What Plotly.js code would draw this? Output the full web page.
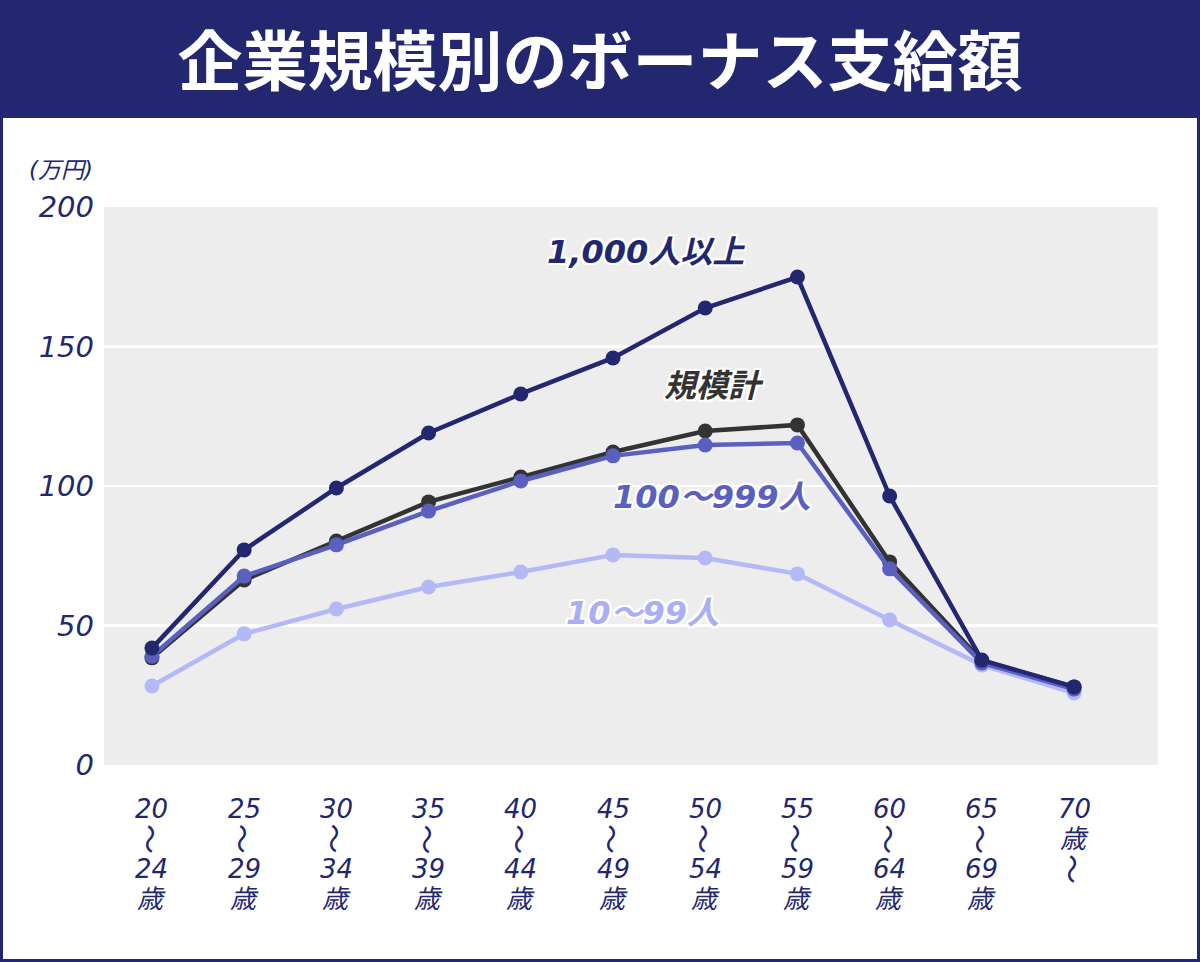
<!DOCTYPE html>
<html>
<head>
<meta charset="utf-8">
<script src="https://cdn.plot.ly/plotly-3.0.1.min.js"></script>
<style>
html,body{margin:0;padding:0;background:#fff;}
#chart{width:1200px;height:962px;}
</style>
</head>
<body>
<div id="chart"></div>
<script>
// ---- data ----
var categories = ["20〜24歳","25〜29歳","30〜34歳","35〜39歳","40〜44歳","45〜49歳","50〜54歳","55〜59歳","60〜64歳","65〜69歳","70歳〜"];
var tickLabels = [
  ["20","〜","24","歳"],["25","〜","29","歳"],["30","〜","34","歳"],["35","〜","39","歳"],
  ["40","〜","44","歳"],["45","〜","49","歳"],["50","〜","54","歳"],["55","〜","59","歳"],
  ["60","〜","64","歳"],["65","〜","69","歳"],["70","歳","〜"]
];
var seriesNames = ["10〜99人","規模計","100〜999人","1,000人以上"];
var small   = [28.3, 47.0, 55.9, 63.8, 69.2, 75.3, 74.2, 68.5, 52.0, 35.8, 25.8];
var total   = [38.4, 66.3, 80.3, 94.3, 103.2, 112.2, 119.7, 121.9, 72.8, 37.3, 28.0];
var medium  = [39.0, 67.7, 78.9, 91.0, 101.8, 110.8, 114.7, 115.4, 70.3, 36.6, 27.2];
var large   = [41.9, 77.1, 99.3, 119.0, 133.0, 145.9, 163.8, 174.9, 96.4, 37.6, 28.0];
var yTicks  = [0, 50, 100, 150, 200];

// ---- style ----
var NAVY = "#22276f";
var colors = ["#b3b8f6", "#333333", "#5a5fc0", "#22276f"];
var labelColors = ["#a9aef5", "#333333", "#5a5fc0", "#22276f"];
var values = [small, total, medium, large];
var FONT = "DejaVu Sans, Verdana, 'Noto Sans CJK JP', sans-serif";

var traces = values.map(function(v, k){
  return {
    type: "scatter", mode: "lines+markers",
    x: categories, y: v, name: seriesNames[k],
    line: {color: colors[k], width: 4.5},
    marker: {color: colors[k], size: 15},
    hoverinfo: "x+y+name"
  };
});

var annotations = [];
// category labels: one annotation per line (tight vertical stacking, wave dash turned upright)
tickLabels.forEach(function(lines, i){
  lines.forEach(function(t, j){
    var isWave = (t === "〜");
    annotations.push({
      x: categories[i], xref: "x", y: 0, yref: "paper",
      yanchor: "middle", xanchor: "center", yshift: -(44 + 30*j),
      text: t, showarrow: false, textangle: isWave ? 90 : 0,
      font: isWave ? {family: "'Noto Sans CJK JP', sans-serif", size: 30, color: NAVY}
                   : {family: FONT, size: 26, color: NAVY, style: "italic"}
    });
  });
});
// series labels
var labelPos = [[5.32, 54.5], [6.1, 135.8], [6.07, 96], [5.36, 184]];
var shadow = "2px 2px 0 #fff, -2px -2px 0 #fff, 2px -2px 0 #fff, -2px 2px 0 #fff, 0 2px 0 #fff, 0 -2px 0 #fff, 2px 0 0 #fff, -2px 0 0 #fff";
seriesNames.forEach(function(n, k){
  annotations.push({
    x: labelPos[k][0], y: labelPos[k][1], xref: "x", yref: "y",
    text: "<b>" + n + "</b>", showarrow: false,
    font: {family: FONT, size: 32, color: labelColors[k], style: "italic", shadow: shadow}
  });
});
// unit label
annotations.push({
  x: -0.009, xref: "paper", y: 1.066, yref: "paper",
  xanchor: "right", yanchor: "middle", showarrow: false,
  text: "(万円)",
  font: {family: FONT, size: 23, color: NAVY, style: "italic"}
});

// paper-coordinate helpers
var W = 1200, H = 962, L = 104, R = 42, T = 207, B = 197;
var pw = W - L - R, ph = H - T - B;
function px(x){ return (x - L) / pw; }
function py(y){ return (H - B - y) / ph; }

var layout = {
  width: W, height: H,
  margin: {l: L, r: R, t: T, b: B, pad: 0},
  paper_bgcolor: "#ffffff",
  plot_bgcolor: "#ededed",
  showlegend: false,
  font: {family: FONT, color: NAVY},
  title: {
    text: "<b>企業規模別のボーナス支給額</b>",
    x: 0.5, xanchor: "center", xref: "container",
    y: 1 - 62/H, yanchor: "middle", yref: "container",
    font: {family: "'Noto Sans CJK JP', sans-serif", size: 65, weight: 900, color: "#ffffff"}
  },
  xaxis: {
    type: "category", range: [-0.52, 10.91],
    showticklabels: false, showgrid: false, zeroline: false, showline: false, ticks: ""
  },
  yaxis: {
    range: [0, 200], tickvals: yTicks, ticktext: yTicks.map(String),
    showgrid: true, gridcolor: "#ffffff", gridwidth: 2.5, zeroline: false, showline: false, ticks: "",
    tickfont: {family: FONT, size: 29, color: NAVY, style: "italic"},
    ticklabelstandoff: 9
  },
  shapes: [
    {type: "rect", xref: "paper", yref: "paper", layer: "below",
     x0: px(0), x1: px(W), y0: py(0), y1: py(118),
     fillcolor: NAVY, line: {width: 0}},
    {type: "rect", xref: "paper", yref: "paper", layer: "above",
     x0: px(1.5), x1: px(W - 1.5), y0: py(1.5), y1: py(H - 1.5),
     fillcolor: "rgba(0,0,0,0)", line: {color: NAVY, width: 3}}
  ],
  annotations: annotations
};

Plotly.newPlot("chart", traces, layout, {displayModeBar: false, staticPlot: true});
</script>
</body>
</html>
